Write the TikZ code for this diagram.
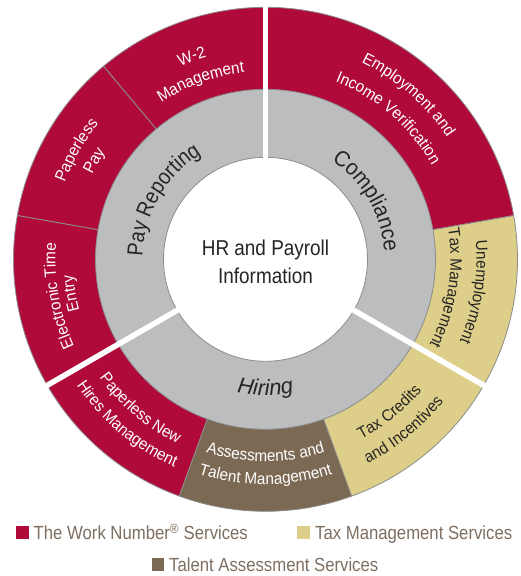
\documentclass[tikz,border=0pt]{standalone}
\usepackage{fontspec}
\setmainfont{Liberation Sans}[FakeStretch=0.88]
\newfontfamily\segface{Liberation Sans}[FakeStretch=0.94]
\newfontfamily\wideface{Liberation Sans}
\usetikzlibrary{decorations.text}
\definecolor{workred}{RGB}{176,10,58}
\definecolor{taxgold}{RGB}{221,207,137}
\definecolor{talentbrown}{RGB}{124,105,84}
\definecolor{ringgrey}{RGB}{188,189,191}
\definecolor{edgegrey}{RGB}{140,140,140}
\definecolor{inkgrey}{RGB}{38,36,36}
\definecolor{legendbrown}{RGB}{125,110,96}
\newcommand{\hubfont}{\fontsize{21.5}{28}\selectfont}
\newcommand{\ringfont}{\fontsize{22}{26}\selectfont}
\newcommand{\segfont}{\segface\fontsize{16.3}{19}\selectfont}
\newcommand{\keyfont}{\fontsize{19}{22}\selectfont}
% text bent along an arc: colour, font, start angle, end angle, baseline radius, text
\newcommand{\curvedlabel}[6]{%
  \path[decorate, decoration={text along path, text align=center, text color=#1, text={|#2|#6}}]
    (#3:#5) arc[start angle=#3, end angle=#4, radius=#5];}

\begin{document}
\begin{tikzpicture}[x=1pt, y=1pt,
    hubtext/.style={font=\hubfont, text=inkgrey, inner sep=0pt},
    keytext/.style={font=\keyfont, text=legendbrown, inner sep=0pt}]
        \useasboundingbox (-265.5,-316.7) rectangle (255.5,259.3);
        % Outer service segments
        \foreach \from/\to/\col in {10/90/workred, 90/130/workred, 130/170/workred, 170/210/workred,
            210/250/workred, 250/290/talentbrown, 290/330/taxgold, 330/370/taxgold}{
          \filldraw[fill=\col, draw=edgegrey, line width=0.8pt]
            (0,0) -- (\from:252) arc[start angle=\from, end angle=\to, radius=252] -- cycle;
        }
        % Grey ring and white hub
        \filldraw[fill=ringgrey, draw=edgegrey, line width=0.8pt] (0,0) circle[radius=170];
        \filldraw[fill=white, draw=edgegrey, line width=0.8pt] (0,0) circle[radius=102];
        % White cuts between the three areas
        \foreach \a in {90,210,330}
          \draw[white, line width=5.5pt] (\a:96) -- (\a:256);
        % Hub text
        \node[hubtext, anchor=base] (hubtop) at (0,4.3) {HR and Payroll};
        \node[hubtext, anchor=base] (hubbottom) at (0,-23.7) {Information};
        % Area names
        \curvedlabel{inkgrey}{\ringfont}{210}{90}{123}{Pay Reporting}
        \curvedlabel{inkgrey}{\segface\ringfont}{90}{-30}{119}{Compliance}
        \curvedlabel{inkgrey}{\wideface\ringfont\itshape}{210}{330}{136}{Hiring}
        % Service names
        \curvedlabel{white}{\segfont}{130}{90}{211}{W-2}
        \curvedlabel{white}{\segfont}{130}{90}{188}{Management}
        \curvedlabel{white}{\segfont}{170}{130}{215}{Paperless}
        \curvedlabel{white}{\segfont}{170}{130}{193}{Pay}
        \curvedlabel{white}{\segfont}{210}{170}{210}{Electronic Time}
        \curvedlabel{white}{\segfont}{210}{170}{193}{Entry}
        \curvedlabel{white}{\segfont}{89}{9}{219}{Employment and}
        \curvedlabel{white}{\segfont}{89}{9}{191}{Income Verification}
        \curvedlabel{inkgrey}{\segfont}{11}{-29}{211}{Unemployment}
        \curvedlabel{inkgrey}{\segfont}{11}{-29}{185}{Tax Management}
        \curvedlabel{inkgrey}{\segfont}{-71}{-31}{204}{Tax Credits}
        \curvedlabel{inkgrey}{\segfont}{-71}{-31}{228}{and Incentives}
        \curvedlabel{white}{\segfont}{250}{290}{202}{Assessments and}
        \curvedlabel{white}{\segfont}{250}{290}{225}{Talent Management}
        \curvedlabel{white}{\segfont}{210}{250}{204}{Paperless New}
        \curvedlabel{white}{\segfont}{210}{250}{227}{Hires Management}
        % Legend
        \fill[workred] (-249.5,-279.4) rectangle (-236.2,-266.7);
        \node[keytext, anchor=base west] (keywork) at (-232,-280) {The Work Number\textsuperscript{®} Services};
        \fill[taxgold] (31.2,-279.4) rectangle (44.5,-266.7);
        \node[keytext, anchor=base west] (keytax) at (49.5,-280) {Tax Management Services};
        \fill[talentbrown] (-113.8,-311.7) rectangle (-101.2,-299);
        \node[keytext, anchor=base west] (keytalent) at (-96.5,-311.7) {Talent Assessment Services};
      \end{tikzpicture}
\end{document}
